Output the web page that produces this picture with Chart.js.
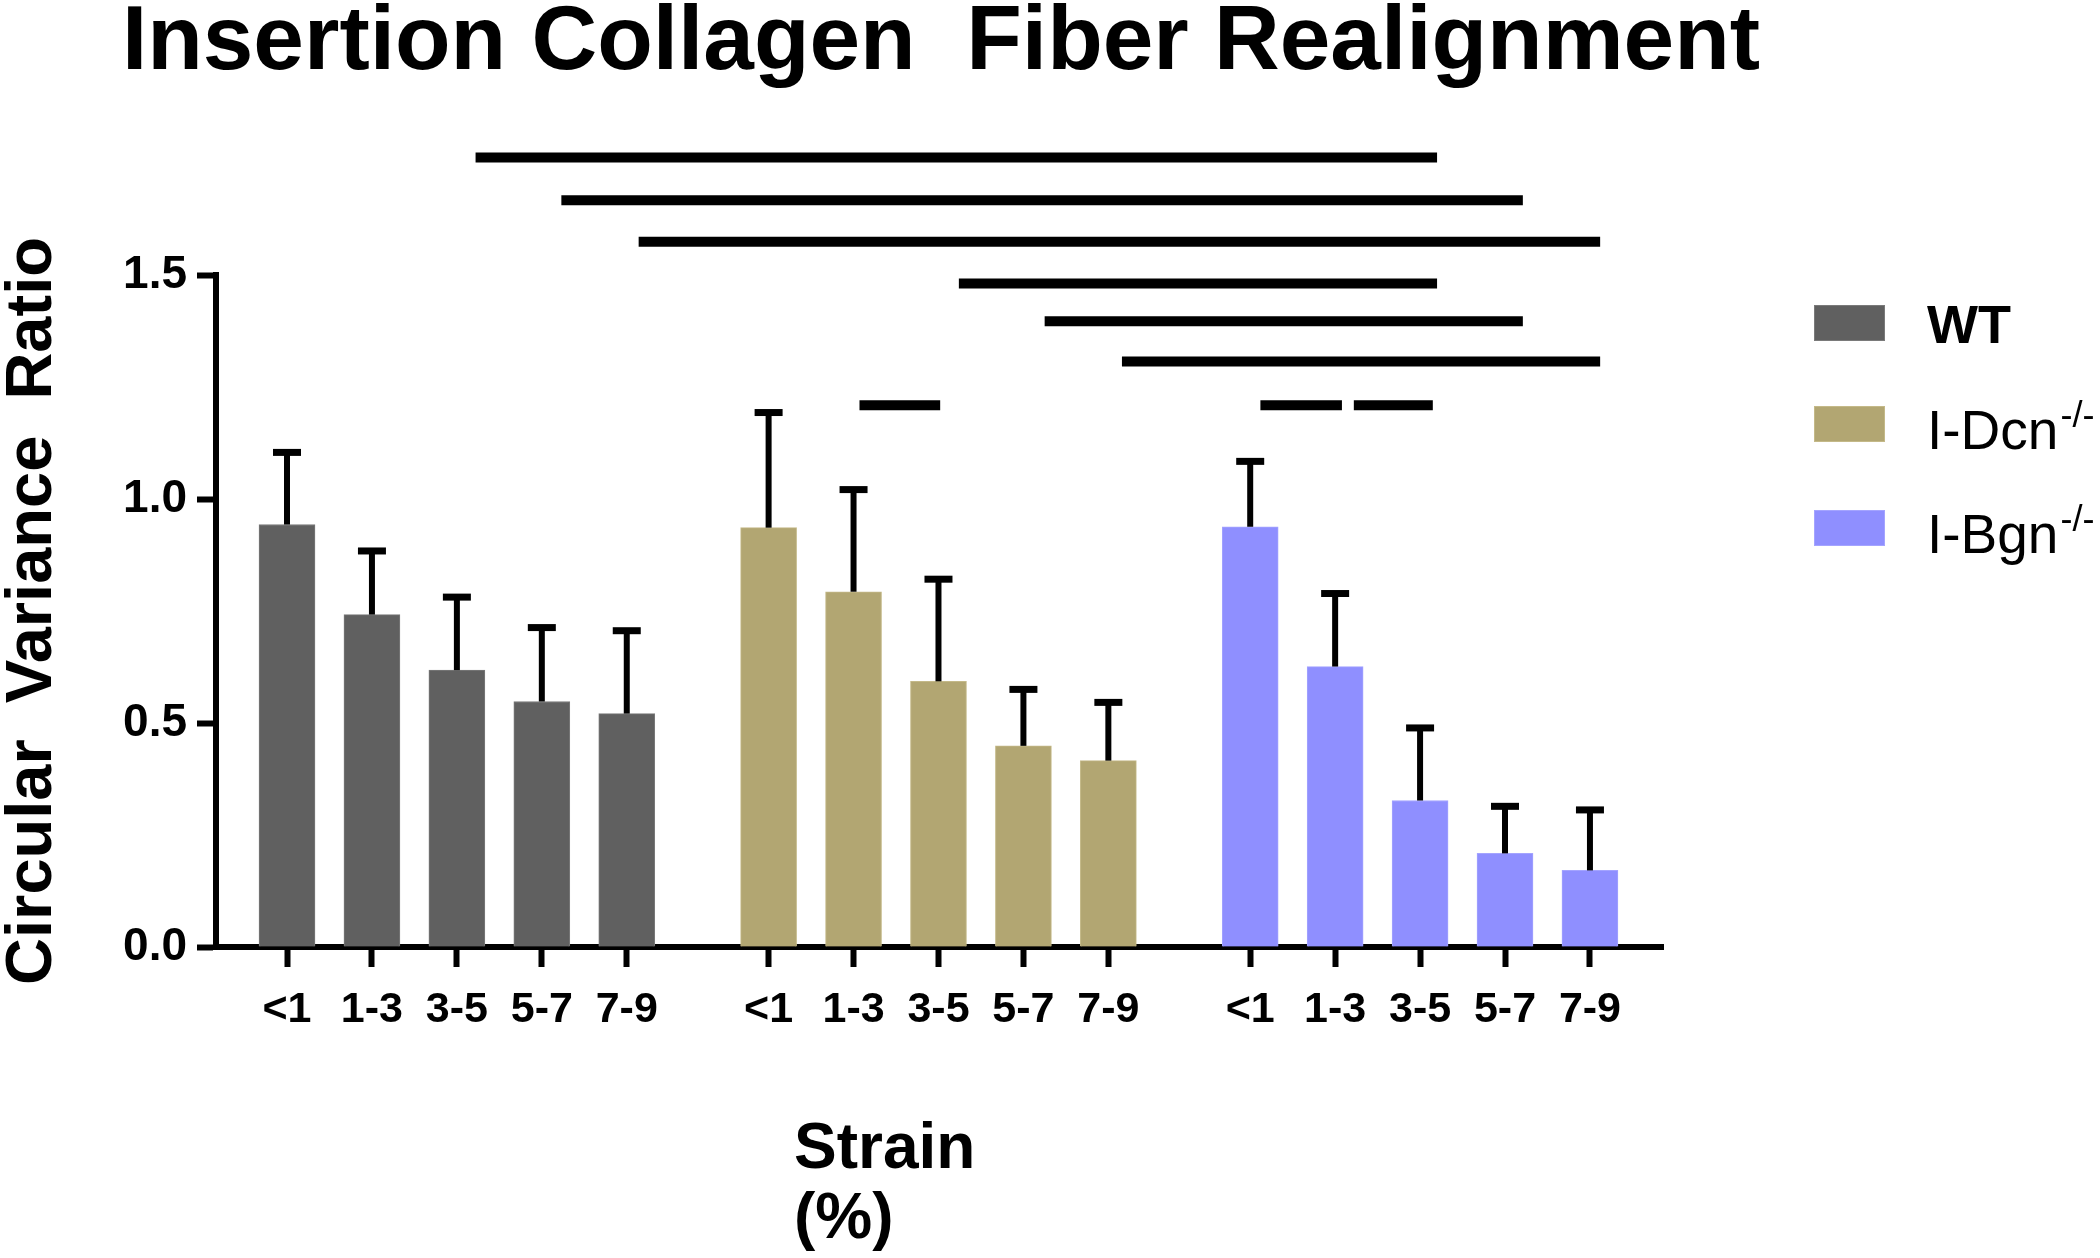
<!DOCTYPE html>
<html>
<head>
<meta charset="utf-8">
<script src="https://cdn.jsdelivr.net/npm/chart.js@4.4.0/dist/chart.umd.min.js"></script>
<style>
  html, body { margin: 0; padding: 0; background: #fff; }
  #wrap { width: 2100px; height: 1258px; }
</style>
</head>
<body>
<div id="wrap"><canvas id="chart" width="2100" height="1258"></canvas></div>
<script>
const FONT = "'Liberation Sans', Arial, Helvetica, sans-serif";

const xLabels = ["<1", "1-3", "3-5", "5-7", "7-9"];
const seriesNames = ["WT", "I-Dcn", "I-Bgn"];
const seriesSup = ["", "-/-", "-/-"];

const wtMean = [0.943, 0.742, 0.618, 0.548, 0.521];
const wtErr = [0.161, 0.142, 0.163, 0.165, 0.185];
const dcnMean = [0.936, 0.793, 0.593, 0.449, 0.416];
const dcnErr = [0.257, 0.228, 0.228, 0.126, 0.130];
const bgnMean = [0.938, 0.626, 0.327, 0.209, 0.171];
const bgnErr = [0.146, 0.163, 0.162, 0.105, 0.135];

const yTicks = [0, 0.5, 1.0, 1.5];

// significance bars (x in bar-slot units, y in data units)
const sigStart = [2.22, 3.23, 4.14, 7.91, 8.92, 9.83, 6.74, 11.46, 12.56];
const sigEnd = [13.54, 14.55, 15.46, 13.54, 14.55, 15.46, 7.69, 12.42, 13.49];
const sigY = [1.762, 1.667, 1.574, 1.481, 1.397, 1.307, 1.209, 1.209, 1.209];

const GROUP_STEP = 5.67;
const colors = ["#606060", "#b2a672", "#8f8fff"];
const borders = ["#7a7a7a", "#c4b988", "#a4a4ff"];

const means = [wtMean, dcnMean, bgnMean];
const errs = [wtErr, dcnErr, bgnErr];

const tickPos = [];
means.forEach((_, g) => xLabels.forEach((_, i) => tickPos.push(g * GROUP_STEP + i)));

const barSets = means.map((arr, g) => ({
  type: "bar",
  label: seriesNames[g],
  data: arr.map((v, i) => ({ x: g * GROUP_STEP + i, y: v })),
  errors: errs[g],
  backgroundColor: colors[g],
  borderColor: borders[g],
  borderWidth: 1,
  barThickness: 56,
  grouped: false,
  order: 2
}));

const sigSets = sigY.map((y, k) => ({
  type: "line",
  data: [{ x: sigStart[k], y: y }, { x: sigEnd[k], y: y }],
  borderColor: "#000",
  borderWidth: 10,
  borderCapStyle: "butt",
  pointRadius: 0,
  pointHoverRadius: 0,
  fill: false,
  clip: false,
  order: 1
}));

const errorBars = {
  id: "errorBars",
  afterDatasetsDraw(chart) {
    const ctx = chart.ctx;
    const yScale = chart.scales.y;
    ctx.save();
    ctx.strokeStyle = "#000";
    chart.data.datasets.forEach((ds, di) => {
      if (!ds.errors) return;
      const meta = chart.getDatasetMeta(di);
      meta.data.forEach((el, i) => {
        const top = yScale.getPixelForValue(ds.data[i].y + ds.errors[i]);
        ctx.lineWidth = 6;
        ctx.beginPath();
        ctx.moveTo(el.x, el.y);
        ctx.lineTo(el.x, top);
        ctx.stroke();
        ctx.lineWidth = 7;
        ctx.beginPath();
        ctx.moveTo(el.x - 14, top);
        ctx.lineTo(el.x + 14, top);
        ctx.stroke();
      });
    });
    ctx.restore();
  }
};

const texts = {
  id: "texts",
  afterDraw(chart) {
    const ctx = chart.ctx;
    const area = chart.chartArea;
    ctx.save();
    ctx.fillStyle = "#000";

    // title
    ctx.font = "bold 91px " + FONT;
    ctx.textAlign = "center";
    ctx.textBaseline = "alphabetic";
    ctx.fillText("Insertion Collagen  Fiber Realignment", 941, 69);

    // y axis title
    ctx.save();
    ctx.translate(51, (area.top + area.bottom) / 2);
    ctx.rotate(-Math.PI / 2);
    ctx.font = "bold 65px " + FONT;
    ctx.fillText("Circular  Variance  Ratio", 0, 0);
    ctx.restore();

    // x axis title
    ctx.textAlign = "left";
    ctx.font = "bold 64px " + FONT;
    ctx.fillText("Strain", 794, 1168);
    ctx.fillText("(%)", 794, 1238);

    // legend
    const boxTop = [305, 406, 510];
    const base = [343, 449, 553];
    chart.data.datasets.forEach((ds, di) => {
      if (!ds.errors) return;
      ctx.fillStyle = ds.backgroundColor;
      ctx.fillRect(1814, boxTop[di], 71, 36);
      ctx.strokeStyle = ds.borderColor;
      ctx.lineWidth = 1;
      ctx.strokeRect(1814.5, boxTop[di] + 0.5, 70, 35);
      ctx.fillStyle = "#000";
      ctx.font = (di === 0 ? "bold 54px " : "55px ") + FONT;
      ctx.fillText(seriesNames[di], 1927, base[di]);
      if (seriesSup[di]) {
        const w = ctx.measureText(seriesNames[di]).width;
        ctx.font = "36px " + FONT;
        ctx.fillText(seriesSup[di], 1927 + w + 2, base[di] - 22);
      }
    });
    ctx.restore();
  }
};

new Chart(document.getElementById("chart"), {
  type: "bar",
  data: { datasets: [...barSets, ...sigSets] },
  options: {
    responsive: false,
    animation: false,
    events: [],
    layout: { padding: { top: 275, right: 437, bottom: 0, left: 0 } },
    plugins: { legend: { display: false }, title: { display: false }, tooltip: { enabled: false } },
    scales: {
      x: {
        type: "linear",
        min: -0.836,
        max: 16.2,
        offset: false,
        afterFit(scale) { scale.height = 311; },
        afterBuildTicks(scale) { scale.ticks = tickPos.map(v => ({ value: v })); },
        grid: { offset: false, drawOnChartArea: false, drawTicks: true, tickLength: 20, tickWidth: 6, tickColor: "#000" },
        border: { display: true, width: 6, color: "#000" },
        ticks: {
          autoSkip: false,
          maxRotation: 0,
          padding: 17,
          color: "#000",
          font: { family: FONT, size: 43, weight: "bold" },
          callback: (v, i) => xLabels[i % xLabels.length]
        }
      },
      y: {
        type: "linear",
        min: 0,
        max: 1.5,
        afterFit(scale) { scale.width = 216; },
        afterBuildTicks(scale) { scale.ticks = yTicks.map(v => ({ value: v })); },
        grid: { drawOnChartArea: false, drawTicks: true, tickLength: 19, tickWidth: 6, tickColor: "#000" },
        border: { display: true, width: 6, color: "#000" },
        ticks: {
          padding: 10,
          color: "#000",
          font: { family: FONT, size: 46, weight: "bold" },
          callback: v => Number(v).toFixed(1)
        }
      }
    }
  },
  plugins: [errorBars, texts]
});
</script>
</body>
</html>
